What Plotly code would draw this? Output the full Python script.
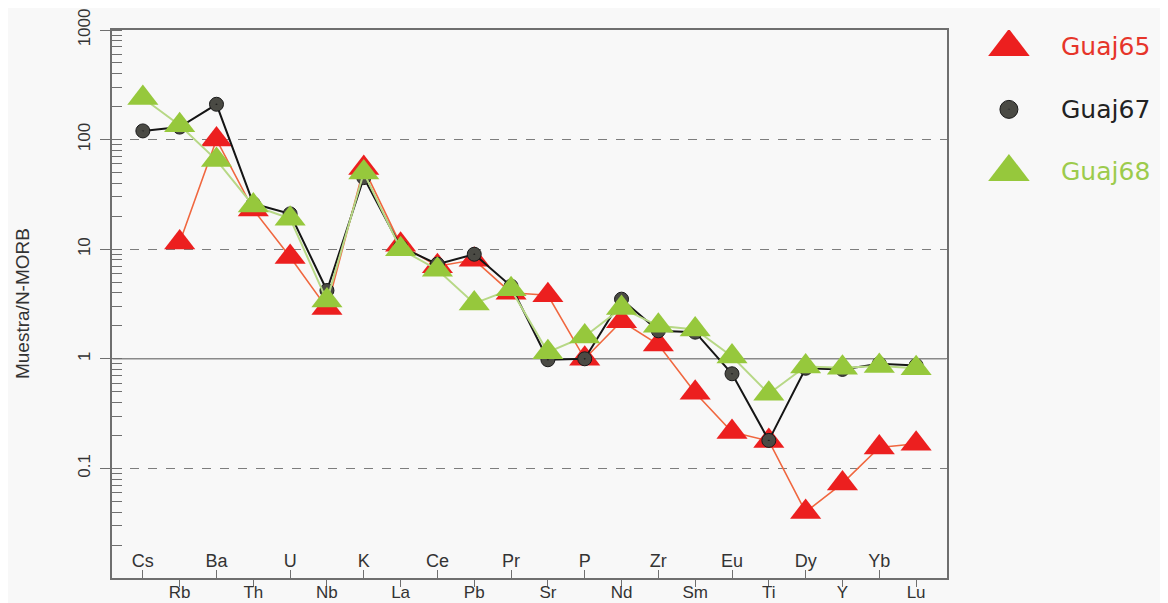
import plotly.graph_objects as go

# ---------------- data ----------------
elements = ["Cs", "Rb", "Ba", "Th", "U", "Nb", "K", "La", "Ce", "Pb", "Pr",
            "Sr", "P", "Nd", "Zr", "Sm", "Eu", "Ti", "Dy", "Y", "Yb", "Lu"]
guaj65 = [None, 11.5, 100, 23, 8.5, 2.9, 55, 11, 7.0, 8.0, 4.0,
          3.8, 1.0, 2.2, 1.35, 0.49, 0.215, 0.178, 0.040, 0.073, 0.155, 0.168]
guaj67 = [120, 130, 210, 26, 21, 4.2, 45, 10.5, 7.3, 9.0, 4.6,
          0.98, 1.0, 3.5, 1.8, 1.75, 0.73, 0.18, 0.82, 0.80, 0.90, 0.87]
guaj68 = [240, 135, 65, 25, 19, 3.4, 50, 10, 6.5, 3.2, 4.3,
          1.15, 1.6, 2.9, 2.0, 1.85, 1.05, 0.48, 0.85, 0.83, 0.86, 0.82]
series_names = ["Guaj65", "Guaj67", "Guaj68"]
y_tickvals = [0.01, 0.1, 1, 10, 100, 1000]
y_ticktext = ["0.01", "0.1", "1", "10", "100", "1000"]
reference_level = 1
y_title = "Muestra/N-MORB"

# ---------------- styles ----------------
RED_M, RED_L = "#ec1f1f", "#f0673f"
BLK_M, BLK_L = "#4a4a44", "#151515"
GRN_M, GRN_L = "#96c83c", "#b7d886"
BG = "#f8f8f8"
AXC = "#6f6f6f"
FONT = "Liberation Sans, Arial, sans-serif"

idx = list(range(len(elements)))
odd = [i for i in idx if i % 2 == 1]
even = [i for i in idx if i % 2 == 0]
XR = [-0.83, 21.83]
XD = [0.0899, 0.8092]

styles = {
    "Guaj65": dict(line=dict(color=RED_L, width=1.6),
                   marker=dict(symbol="triangle-up", size=27, color=RED_M,
                               line=dict(width=0))),
    "Guaj67": dict(line=dict(color=BLK_L, width=2),
                   marker=dict(symbol="circle-dot", size=14, color=BLK_M,
                               line=dict(color="#1a1a1a", width=1))),
    "Guaj68": dict(line=dict(color=GRN_L, width=2),
                   marker=dict(symbol="triangle-up", size=27, color=GRN_M,
                               line=dict(width=0))),
}
data_by_name = {"Guaj65": guaj65, "Guaj67": guaj67, "Guaj68": guaj68}

fig = go.Figure()

# solid reference line at 1 (drawn first, under the data)
fig.add_trace(go.Scatter(x=XR, y=[reference_level, reference_level], mode="lines",
                         line=dict(color="#8a8a8a", width=1.6), showlegend=False,
                         hoverinfo="skip"))

for name in series_names:
    st = styles[name]
    fig.add_trace(go.Scatter(x=idx, y=data_by_name[name], mode="lines+markers",
                             name=name, line=st["line"], marker=st["marker"],
                             connectgaps=False, showlegend=False))

# dummy trace to keep the overlaying axis alive
fig.add_trace(go.Scatter(x=[], y=[], xaxis="x2", yaxis="y", showlegend=False))

# custom legend with large markers
legend_text_colors = {"Guaj65": "#e6352a", "Guaj67": "#222222", "Guaj68": "#9ccb4c"}
for i, name in enumerate(series_names):
    st = styles[name]
    m = dict(st["marker"])
    m["size"] = 36 if "triangle" in m["symbol"] else 18
    fig.add_trace(go.Scatter(x=[0], y=[i], xaxis="x3", yaxis="y3", mode="markers",
                             marker=m, showlegend=False, hoverinfo="skip"))
    fig.add_annotation(x=0, y=i, xref="x3", yref="y3", text=name, showarrow=False,
                       xanchor="left", yanchor="middle", xshift=50,
                       font=dict(family="DejaVu Sans, sans-serif", size=25,
                                 color=legend_text_colors[name]))

# y-axis title as annotation
fig.add_annotation(x=0.0121, y=0.5, xref="paper", yref="paper", text=y_title,
                   textangle=-90, showarrow=False, xanchor="center", yanchor="middle",
                   font=dict(family=FONT, size=19, color="#333"))

fig.update_layout(
    width=1160, height=595,
    margin=dict(l=0, r=0, t=22, b=25),
    paper_bgcolor=BG, plot_bgcolor=BG,
    font=dict(family=FONT, color="#333"),
    showlegend=False,
    xaxis=dict(domain=XD, range=XR, tickmode="array", tickvals=odd,
               ticktext=[elements[i] for i in odd], ticks="outside", ticklen=7,
               ticklabelstandoff=-9,
               tickcolor=AXC, tickwidth=1.3, showgrid=False, zeroline=False,
               showline=True, linecolor=AXC, linewidth=1.6, mirror=True,
               tickfont=dict(family=FONT, size=17, color="#333"), automargin=False),
    xaxis2=dict(domain=XD, range=XR, overlaying="x", anchor="y", side="bottom",
                tickmode="array", tickvals=even, ticktext=[elements[i] for i in even],
                ticks="inside", ticklen=8, tickcolor=AXC, tickwidth=1.3,
                ticklabelposition="inside", showgrid=False, zeroline=False,
                showline=False, tickfont=dict(family=FONT, size=18, color="#333"),
                automargin=False),
    yaxis=dict(type="log", domain=[0, 1], range=[-2, 3], tickmode="array",
               tickvals=y_tickvals, ticktext=y_ticktext, tickangle=-90,
               ticks="outside", ticklen=10, tickcolor=AXC, tickwidth=1.3,
               ticklabelstandoff=4,
               minor=dict(ticks="inside", ticklen=10, tickcolor=AXC, tickwidth=1.2,
                          dtick="D1", showgrid=False),
               showgrid=True, gridcolor="#7d7d7d", gridwidth=1.4, griddash="dash",
               zeroline=False, showline=True, linecolor=AXC, linewidth=1.6,
               mirror=True, tickfont=dict(family=FONT, size=17, color="#333"),
               automargin=False),
    xaxis3=dict(domain=[0.84, 1.0], range=[-1.5, 9], visible=False, fixedrange=True),
    yaxis3=dict(domain=[0.70, 1.0], range=[2.36, -0.27], visible=False,
                anchor="x3", fixedrange=True),
)

fig.write_html("out.html")
